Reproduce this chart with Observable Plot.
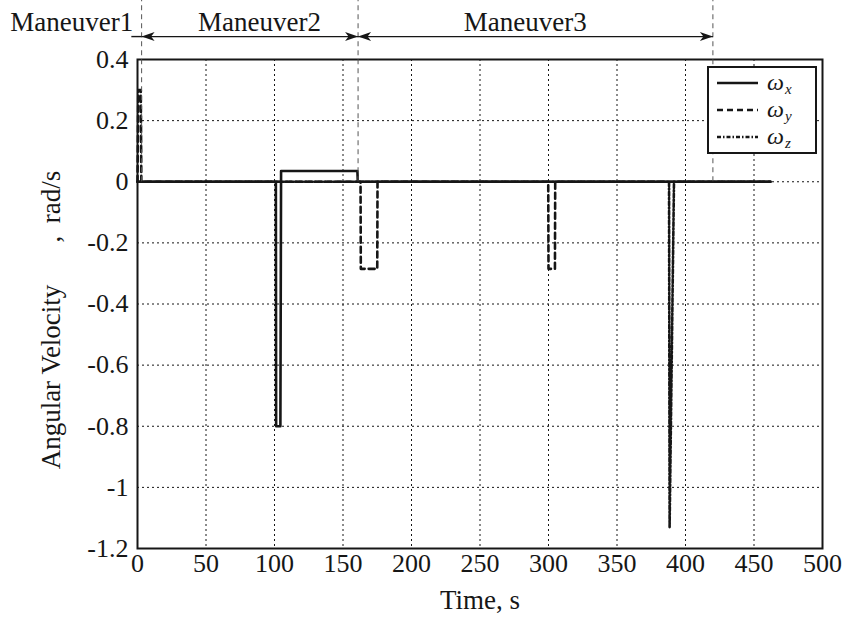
<!DOCTYPE html>
<html>
<head>
<meta charset="utf-8">
<script src="https://cdn.jsdelivr.net/npm/d3@7"></script>
<script src="https://cdn.jsdelivr.net/npm/@observablehq/plot@0.6"></script>
<style>
  body { margin: 0; background: #fff; }
  #chart { position: relative; width: 856px; height: 620px; font-family: "Liberation Serif", "Times New Roman", serif; }
  #chart svg text { font-family: "Liberation Serif", "Times New Roman", serif; }
  #legend { position: absolute; left: 0; top: 0; pointer-events: none; }
</style>
</head>
<body>
<div id="chart"></div>
<script>
// Angular velocity components [time s, rate rad/s]
const omegaX = [[0, 0], [101, 0], [101.2, -0.8], [104.3, -0.8], [104.8, 0.035], [160.5, 0.035], [160.8, 0], [462, 0]];
const omegaY = [[0, 0], [0.6, 0.3], [2.4, 0.3], [2.8, 0], [162.8, 0], [163, -0.285], [175, -0.285], [175.2, 0],
                [299.8, 0], [300, -0.285], [304.7, -0.285], [304.9, 0], [462, 0]];
const omegaZ = [[0, 0], [388, 0], [388.4, -1.13], [391.6, 0], [462, 0]];

const seriesSubscripts = ["x", "y", "z"];

const xTicks = [0, 50, 100, 150, 200, 250, 300, 350, 400, 450, 500];
const yTicks = [-1.2, -1, -0.8, -0.6, -0.4, -0.2, 0, 0.2, 0.4];

// Maneuver phases (s)
const maneuverNames = ["Maneuver1", "Maneuver2", "Maneuver3"];
const maneuverStart = [-4.5, 3, 161];
const maneuverEnd = [3, 161, 420];
const maneuverLabelAt = [-48, 89, 283];
const phaseBoundaries = [3, 161, 420];

const FONT = '"Liberation Serif", "Times New Roman", serif';
const INK = "#161616";

// annotation row above the frame, expressed on the y scale
const ARROW_Y = 0.475;
const GUIDE_TOP = 0.595;

const maneuvers = maneuverNames.map((name, i) => ({
  name, start: maneuverStart[i], end: maneuverEnd[i], at: maneuverLabelAt[i]
}));

// filled arrowheads with the tip at the origin
const headRight = {
  draw(ctx) { ctx.moveTo(0, 0); ctx.lineTo(-13, -4.5); ctx.lineTo(-9.5, 0); ctx.lineTo(-13, 4.5); ctx.closePath(); }
};
const headLeft = {
  draw(ctx) { ctx.moveTo(0, 0); ctx.lineTo(13, -4.5); ctx.lineTo(9.5, 0); ctx.lineTo(13, 4.5); ctx.closePath(); }
};

const px = d => d[0], py = d => d[1];
const txt = { fontFamily: FONT, fill: INK };

const chart = Plot.plot({
  width: 856,
  height: 620,
  marginTop: 59,
  marginBottom: 72,
  marginLeft: 137,
  marginRight: 34,
  style: { fontFamily: FONT, fontSize: "26px", color: INK, background: "#fff", overflow: "visible" },
  x: { domain: [0, 500] },
  y: { domain: [-1.2, 0.4] },
  marks: [
    Plot.gridX(xTicks, { stroke: INK, strokeOpacity: 1, strokeWidth: 1, strokeDasharray: "2,3" }),
    Plot.gridY(yTicks, { stroke: INK, strokeOpacity: 1, strokeWidth: 1, strokeDasharray: "2,3" }),
    Plot.axisX(xTicks, { tickSize: 0, tickPadding: 5, tickFormat: d => String(d), fontSize: 26, fontFamily: FONT, label: null }),
    Plot.axisY(yTicks, { tickSize: 0, tickPadding: 9, tickFormat: d => String(d), fontSize: 26, fontFamily: FONT, label: null }),

    Plot.line(omegaZ, { x: px, y: py, stroke: INK, strokeWidth: 2.6, strokeDasharray: "4,2,1.5,2" }),
    Plot.line(omegaY, { x: px, y: py, stroke: INK, strokeWidth: 2.6, strokeDasharray: "6,4" }),
    Plot.line(omegaX, { x: px, y: py, stroke: INK, strokeWidth: 2.6 }),

    Plot.frame({ stroke: INK, strokeWidth: 2 }),

    // phase boundaries and spans
    Plot.ruleX(phaseBoundaries, { y1: 0, y2: GUIDE_TOP, stroke: "#555", strokeWidth: 1, strokeDasharray: "5,4" }),
    Plot.link(maneuvers, { x1: "start", x2: "end", y1: () => ARROW_Y, y2: () => ARROW_Y, stroke: INK, strokeWidth: 1.4 }),
    Plot.dot(maneuvers.slice(1), { x: "start", y: () => ARROW_Y, symbol: headLeft, r: 4, fill: INK, stroke: "none" }),
    Plot.dot(maneuvers.slice(1), { x: "end", y: () => ARROW_Y, symbol: headRight, r: 4, fill: INK, stroke: "none" }),
    Plot.text(maneuvers, { x: "at", text: "name", frameAnchor: "top", textAnchor: "middle", lineAnchor: "bottom", dy: -29, fontSize: 27, ...txt }),

    // axis titles
    Plot.text(["Time, s"], { frameAnchor: "bottom", textAnchor: "middle", lineAnchor: "middle", dy: 52, fontSize: 27, ...txt }),
    Plot.text(["Angular Velocity"], { frameAnchor: "left", textAnchor: "middle", lineAnchor: "middle", rotate: -90, dx: -86, dy: 73, fontSize: 27, ...txt }),
    Plot.text([","], { frameAnchor: "left", textAnchor: "middle", lineAnchor: "middle", rotate: -90, dx: -86, dy: -65, fontSize: 27, ...txt }),
    Plot.text(["rad/s"], { frameAnchor: "left", textAnchor: "middle", lineAnchor: "middle", rotate: -90, dx: -86, dy: -107, fontSize: 27, ...txt })
  ]
});

const root = document.getElementById("chart");
root.appendChild(chart);

// legend box inside the upper-right corner of the frame
const legend = d3.select(root).append("svg")
  .attr("id", "legend").attr("width", 856).attr("height", 620);
const box = { x: 708, y: 67, w: 108, h: 86 };
legend.append("rect")
  .attr("x", box.x).attr("y", box.y).attr("width", box.w).attr("height", box.h)
  .attr("fill", "#fff").attr("stroke", INK).attr("stroke-width", 2);
const dashes = [null, "6,4", "4,2,1.5,2"];
const rowY = [83, 110, 137];
seriesSubscripts.forEach((sub, i) => {
  const y = rowY[i];
  legend.append("line")
    .attr("x1", 717).attr("x2", 758).attr("y1", y).attr("y2", y)
    .attr("stroke", INK).attr("stroke-width", 2.6)
    .attr("stroke-dasharray", dashes[i]);
  legend.append("text")
    .attr("x", 767).attr("y", y + 7)
    .attr("font-family", FONT).attr("font-style", "italic").attr("fill", INK)
    .attr("font-size", 24).text("ω");
  legend.append("text")
    .attr("x", 785).attr("y", y + 10.5)
    .attr("font-family", FONT).attr("font-style", "italic").attr("fill", INK)
    .attr("font-size", 15).text(sub);
});
</script>
</body>
</html>
